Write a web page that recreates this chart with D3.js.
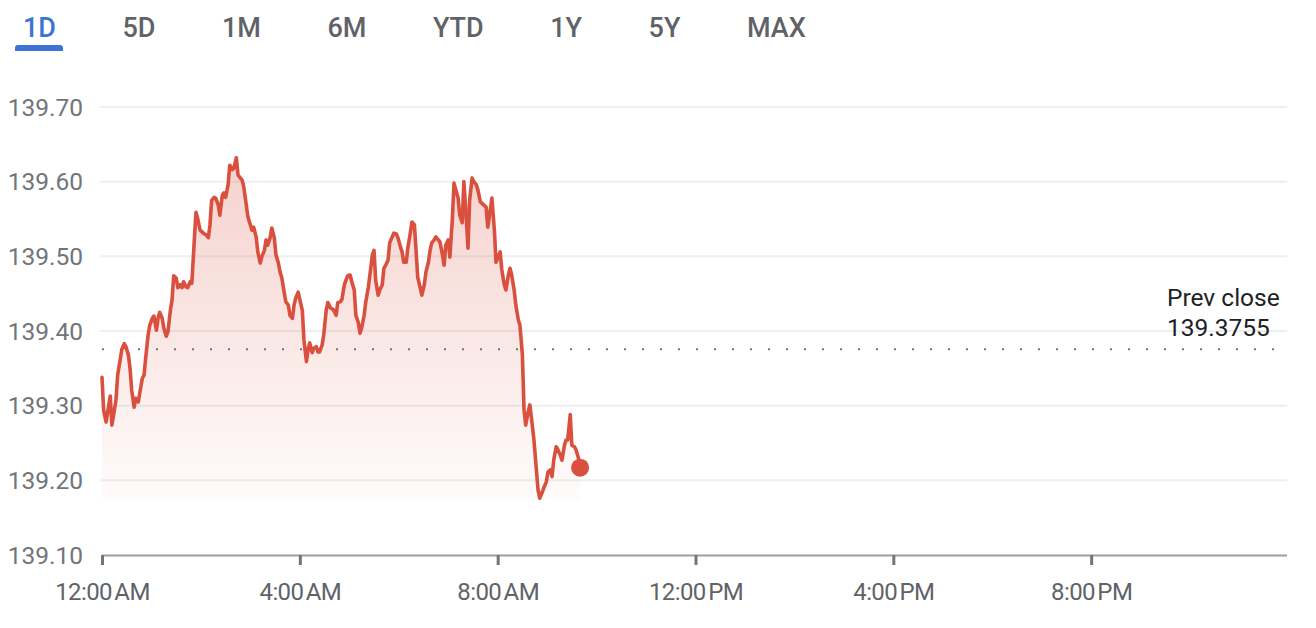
<!DOCTYPE html>
<html>
<head>
<meta charset="utf-8">
<script src="https://cdn.jsdelivr.net/npm/d3@7"></script>
<style>
  html, body { margin: 0; padding: 0; background: #ffffff; }
  svg { display: block; font-family: Roboto, "Noto Sans", Arial, sans-serif; }
</style>
</head>
<body>
<svg id="chart" width="1316" height="628"></svg>
<script>
// ---- data ----
const tabs = ["1D", "5D", "1M", "6M", "YTD", "1Y", "5Y", "MAX"];
const activeTab = "1D";
const yTickValues = [139.10, 139.20, 139.30, 139.40, 139.50, 139.60, 139.70];
const xTickHours = [0, 4, 8, 12, 16, 20];
const prevClose = 139.3755;
const prevCloseLabel = ["Prev close", "139.3755"];

// minutes after midnight
const times = [0,2,5,7,10,12,15,17,19,22,24,27,29,32,34,36,39,41,44,46,
  49,51,53,56,58,61,63,66,68,70,73,75,78,80,83,85,87,90,92,95,
  97,99,102,104,107,109,112,114,116,119,121,124,126,129,131,133,136,138,141,143,
  146,148,150,153,155,158,160,163,165,167,170,172,175,177,180,182,184,187,189,192,
  194,197,199,201,204,206,209,211,214,216,218,221,223,226,228,231,233,235,238,240,
  243,245,248,250,252,255,257,260,262,264,267,269,272,274,277,279,281,284,286,289,
  291,294,296,298,301,303,306,308,311,313,315,318,320,323,325,328,330,332,335,337,
  340,342,345,347,349,352,354,357,359,362,364,366,369,371,374,376,379,381,383,386,
  388,391,393,396,398,400,403,405,408,410,413,415,417,420,422,425,427,430,432,434,
  437,439,442,444,446,449,451,454,456,459,461,463,466,468,471,473,476,478,480,483,
  485,488,490,493,495,497,500,502,505,507,510,512,514,517,519,522,524,527,529,531,
  534,536,539,541,544,546,548,551,553,556,558,561,563,565,568,570,573,575,578,580];

const prices = [139.338,139.294,139.278,139.292,139.313,139.274,139.294,139.308,139.341,139.361,
  139.375,139.383,139.379,139.368,139.350,139.321,139.298,139.310,139.305,139.318,
  139.337,139.341,139.364,139.395,139.408,139.417,139.420,139.401,139.417,139.425,
  139.417,139.404,139.393,139.399,139.428,139.442,139.474,139.471,139.458,139.462,
  139.458,139.466,139.459,139.458,139.466,139.464,139.522,139.559,139.551,139.535,
  139.533,139.530,139.529,139.525,139.542,139.575,139.579,139.578,139.569,139.555,
  139.582,139.585,139.579,139.596,139.622,139.616,139.618,139.632,139.609,139.606,
  139.602,139.593,139.569,139.553,139.542,139.535,139.539,139.526,139.506,139.491,
  139.500,139.508,139.522,139.515,139.525,139.538,139.525,139.502,139.491,139.479,
  139.472,139.452,139.439,139.435,139.421,139.417,139.435,139.444,139.452,139.442,
  139.428,139.388,139.359,139.375,139.384,139.371,139.377,139.379,139.372,139.372,
  139.381,139.395,139.428,139.438,139.431,139.430,139.428,139.421,139.438,139.439,
  139.442,139.462,139.468,139.474,139.475,139.466,139.455,139.421,139.411,139.397,
  139.404,139.421,139.439,139.458,139.475,139.502,139.508,139.468,139.448,139.455,
  139.462,139.484,139.490,139.495,139.518,139.526,139.531,139.530,139.525,139.513,
  139.506,139.492,139.492,139.511,139.531,139.546,139.542,139.508,139.472,139.458,
  139.448,139.462,139.479,139.492,139.508,139.518,139.522,139.526,139.522,139.519,
  139.502,139.488,139.515,139.522,139.499,139.549,139.598,139.586,139.578,139.555,
  139.545,139.600,139.549,139.511,139.575,139.605,139.600,139.596,139.589,139.573,
  139.571,139.569,139.566,139.539,139.562,139.578,139.535,139.492,139.498,139.506,
  139.482,139.462,139.455,139.475,139.484,139.475,139.455,139.435,139.415,139.408,
  139.368,139.294,139.274,139.292,139.301,139.274,139.254,139.214,139.187,139.176,
  139.184,139.190,139.198,139.211,139.214,139.205,139.227,139.245,139.241,139.234,
  139.227,139.247,139.254,139.254,139.288,139.247,139.245,139.241,139.230,139.217];

// ---- drawing ----
const W = 1316, H = 628;
const svg = d3.select("#chart");
const lineColor = "#d9503f";
const base = new Date(2024, 0, 1, 0, 0, 0);
const toDate = m => d3.timeMinute.offset(base, m);
const data = times.map((t, i) => ({ date: toDate(t), price: prices[i] }));

const plot = { left: 102, right: 1289, top: 107, bottom: 555 };

const x = d3.scaleTime()
  .domain([base, d3.timeHour.offset(base, 24)])
  .range([plot.left, plot.right]);
const y = d3.scaleLinear()
  .domain([d3.min(yTickValues), d3.max(yTickValues)])
  .range([plot.bottom, plot.top]);

// tabs
const tabG = svg.append("g").attr("class", "tabs");
let cursor = 23;
tabs.forEach(t => {
  const txt = tabG.append("text")
    .attr("x", cursor).attr("y", 37)
    .attr("font-size", 27).attr("font-weight", 500)
    .attr("fill", t === activeTab ? "#3b73d9" : "#5f6368")
    .text(t);
  const w = txt.node().getComputedTextLength();
  if (t === activeTab) {
    const l = 15, r = 63;
    tabG.append("path")
      .attr("d", `M${l},51 V48 Q${l},45 ${l + 3},45 H${r - 3} Q${r},45 ${r},48 V51 Z`)
      .attr("fill", "#3b73d9");
  }
  cursor += w + 66.5;
});

// gridlines
svg.append("g").selectAll("line")
  .data(yTickValues.filter(v => v > d3.min(yTickValues)))
  .join("line")
  .attr("x1", 100).attr("x2", 1287)
  .attr("y1", d => y(d)).attr("y2", d => y(d))
  .attr("stroke", "#eeeff0").attr("stroke-width", 2);

// y labels
svg.append("g").selectAll("text")
  .data(yTickValues)
  .join("text")
  .attr("x", 83).attr("y", d => y(d))
  .attr("dy", "0.36em")
  .attr("text-anchor", "end")
  .attr("font-size", 24.5)
  .attr("fill", "#70757a")
  .text(d => d.toFixed(2));

// area gradient
const defs = svg.append("defs");
const minP = d3.min(prices), maxP = d3.max(prices);
const grad = defs.append("linearGradient")
  .attr("id", "areaGrad")
  .attr("gradientUnits", "userSpaceOnUse")
  .attr("x1", 0).attr("x2", 0)
  .attr("y1", y(maxP)).attr("y2", y(minP));
grad.append("stop").attr("offset", 0).attr("stop-color", lineColor).attr("stop-opacity", 0.26);
grad.append("stop").attr("offset", 1).attr("stop-color", lineColor).attr("stop-opacity", 0.02);

const area = d3.area()
  .x(d => x(d.date))
  .y0(y(minP) + 2)
  .y1(d => y(d.price));
svg.append("path").datum(data)
  .attr("d", area)
  .attr("fill", "url(#areaGrad)");

// prev close dotted line
svg.append("line")
  .attr("x1", plot.left).attr("x2", 1280)
  .attr("y1", y(prevClose)).attr("y2", y(prevClose))
  .attr("stroke", "#70757a").attr("stroke-width", 2)
  .attr("stroke-dasharray", "2 16");

svg.append("g").selectAll("text")
  .data(prevCloseLabel)
  .join("text")
  .attr("x", 1167)
  .attr("y", (d, i) => y(prevClose) - 43 + i * 30)
  .attr("font-size", 24.5)
  .attr("fill", "#202124")
  .text(d => d);

// x axis
const xAxis = d3.axisBottom(x)
  .tickValues(xTickHours.map(h => d3.timeHour.offset(base, h)))
  .tickFormat(d3.timeFormat("%-I:%M\u202F%p"))
  .tickSize(10)
  .tickSizeOuter(0)
  .tickPadding(18);
const xg = svg.append("g")
  .attr("transform", `translate(0,${plot.bottom})`)
  .call(xAxis);
xg.select(".domain").attr("stroke", "#9aa0a6").attr("stroke-width", 2)
  .attr("d", `M${plot.left},0.5H1287`);
xg.selectAll(".tick line").attr("stroke", "#70757a").attr("stroke-width", 3);
xg.selectAll(".tick text")
  .attr("font-size", 24)
  .attr("font-family", "Roboto, sans-serif")
  .attr("letter-spacing", "-0.6")
  .attr("fill", "#5f6368");

// price line
const line = d3.line()
  .x(d => x(d.date))
  .y(d => y(d.price));
svg.append("path").datum(data)
  .attr("d", line)
  .attr("fill", "none")
  .attr("stroke", lineColor)
  .attr("stroke-width", 3.6)
  .attr("stroke-linejoin", "round")
  .attr("stroke-linecap", "round");

// end dot
const last = data[data.length - 1];
svg.append("circle")
  .attr("cx", x(last.date)).attr("cy", y(last.price))
  .attr("r", 9)
  .attr("fill", lineColor);
</script>
</body>
</html>
